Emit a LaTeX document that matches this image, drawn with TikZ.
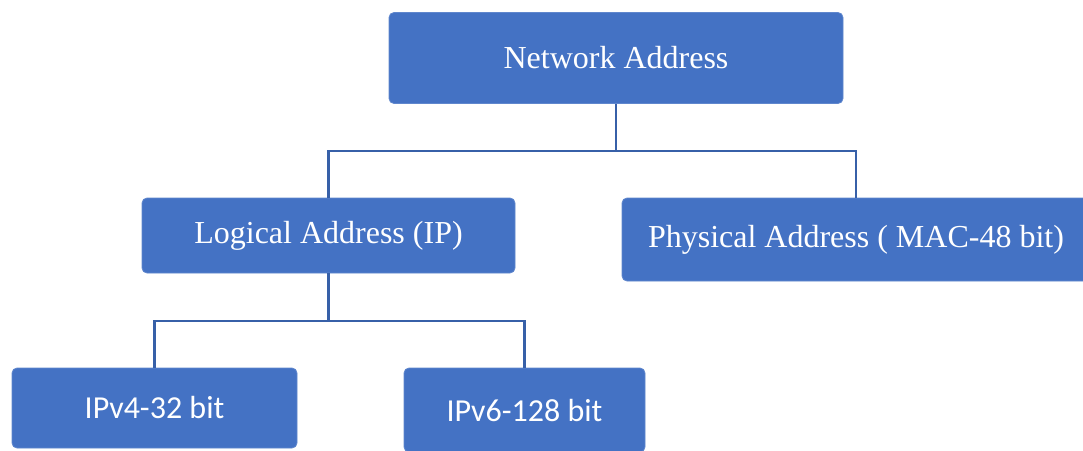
\documentclass[tikz,border=0pt]{standalone}
\usepackage{fontspec}
\setmainfont{Liberation Serif}
\newfontfamily\calfont{Carlito}
\definecolor{boxblue}{HTML}{4472C4}
\definecolor{lineblue}{HTML}{3760A8}
\tikzset{
  box/.style={rectangle, rounded corners=5pt, fill=boxblue, draw=boxblue!85!white, line width=0.8pt,
    text=white, inner sep=0pt, font=\fontsize{32}{38}\selectfont},
  sbox/.style={box, font=\calfont\fontsize{32}{38}\selectfont},
  conn/.style={draw=lineblue, line width=2.4pt}
}
\begin{document}
\begin{tikzpicture}[x=1pt,y=-1pt]
\useasboundingbox (0,0) rectangle (1083,450);
\clip (0,0) rectangle (1083,450);
\node[box, minimum width=454pt, minimum height=91pt] (net) at (616,58) {Network Address};
\node[box, minimum width=373pt, minimum height=75pt] (log) at (328.5,235.5) {Logical Address (IP)};
\node[box, minimum width=468pt, minimum height=83pt] (phys) at (856,239.5) {Physical Address ( MAC-48 bit)};
\node[sbox, minimum width=285pt, minimum height=80pt] (ipv4) at (154.5,408) {IPv4-32 bit};
\node[sbox, minimum width=241pt, minimum height=84pt] (ipv6) at (524.5,410) {IPv6-128 bit};
\coordinate (j1) at (616,151);
\coordinate (j2) at (328.5,321);
\draw[conn] (net.south) -- (j1);
\draw[conn] (j1) -| (log.north);
\draw[conn] (j1) -| (phys.north);
\draw[conn] (log.south) -- (j2);
\draw[conn] (j2) -| (ipv4.north);
\draw[conn] (j2) -| (ipv6.north);
\end{tikzpicture}
\end{document}
